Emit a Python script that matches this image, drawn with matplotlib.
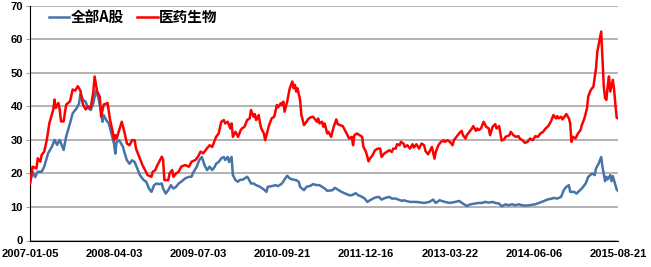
import numpy as np
import matplotlib
matplotlib.use("Agg")
import matplotlib.pyplot as plt

# Datos semanales (indice de semana, PE)
fechas = ["2007-01-05", "2008-04-03", "2009-07-03", "2010-09-21",
          "2011-12-16", "2013-03-22", "2014-06-06", "2015-08-21"]
paso_etiqueta = 65
n_semanas = 456

semana_a = [0, 2, 4, 6, 9, 11, 14, 17, 19, 21, 23, 26, 28, 31, 33, 36, 38, 39, 41, 43,
            45, 47, 49, 51, 53, 55, 56, 57, 59, 61, 63, 65, 66, 67, 69, 72, 73, 75, 77, 79,
            81, 83, 85, 88, 90, 92, 94, 96, 98, 100, 102, 103, 105, 107, 109, 111, 113, 115, 117, 120,
            123, 125, 126, 129, 131, 133, 135, 137, 139, 141, 143, 144, 146, 148, 150, 151, 153, 154, 156, 157,
            159, 161, 162, 165, 168, 169, 171, 173, 175, 178, 181, 183, 184, 187, 190, 192, 195, 197, 199, 201,
            203, 206, 208, 209, 212, 214, 217, 219, 222, 224, 226, 228, 230, 234, 236, 239, 241, 244, 247, 249,
            252, 254, 257, 259, 261, 264, 267, 270, 272, 275, 278, 280, 283, 285, 288, 289, 294, 299, 305, 309,
            312, 314, 317, 321, 325, 329, 332, 335, 338, 341, 344, 347, 350, 352, 355, 358, 360, 363, 365, 368,
            370, 373, 376, 378, 381, 383, 386, 389, 391, 394, 396, 399, 401, 404, 405, 408, 411, 413, 415, 417,
            418, 421, 423, 425, 427, 430, 432, 435, 437, 438, 440, 442, 443, 445, 446, 447, 449, 450, 451, 453,
            454, 455]
pe_a = [17.0, 20.5, 18.9, 20.5, 20.5, 22.0, 26.0, 28.0, 30.0, 28.5, 30.0, 27.0, 31.0, 35.0, 37.9, 39.4, 40.9, 43.7, 41.9, 41.4,
        39.4, 38.9, 40.9, 44.7, 42.4, 38.4, 35.4, 37.4, 35.9, 34.9, 31.9, 28.9, 25.9, 29.4, 29.9, 27.9, 26.4, 23.9, 22.9, 23.9,
        23.4, 21.5, 19.5, 18.0, 17.5, 15.5, 14.5, 16.5, 17.0, 16.8, 17.0, 15.5, 14.0, 15.0, 16.5, 15.5, 16.0, 17.0, 17.5, 18.5,
        19.0, 19.0, 20.0, 22.0, 24.0, 24.9, 22.5, 21.0, 22.0, 21.0, 22.0, 22.9, 23.4, 24.5, 24.9, 24.0, 24.9, 23.4, 24.9, 19.5,
        18.0, 17.5, 18.0, 18.2, 19.0, 18.5, 17.0, 17.0, 16.5, 16.0, 15.2, 14.5, 16.0, 16.2, 16.5, 16.2, 17.0, 18.2, 19.3, 18.5,
        18.2, 18.0, 17.5, 16.0, 15.0, 16.0, 16.3, 16.8, 16.5, 16.5, 16.0, 15.5, 14.8, 15.0, 15.7, 15.0, 14.5, 14.0, 13.5, 13.5,
        14.1, 13.5, 13.0, 12.5, 11.5, 12.2, 12.8, 13.0, 12.2, 12.7, 13.0, 12.5, 12.5, 12.2, 11.8, 12.0, 11.5, 11.5, 11.2, 11.5,
        12.2, 11.2, 12.0, 11.5, 11.2, 11.5, 11.8, 11.0, 10.3, 10.8, 11.0, 11.2, 11.2, 11.5, 11.3, 11.5, 11.2, 11.0, 10.2, 10.8,
        10.5, 10.8, 10.5, 10.8, 10.5, 10.4, 10.5, 10.7, 10.8, 11.2, 11.5, 12.0, 12.3, 12.5, 12.7, 12.5, 13.0, 15.0, 16.0, 16.5,
        14.5, 14.5, 14.0, 14.8, 15.5, 17.0, 19.0, 20.0, 19.5, 21.5, 22.9, 24.9, 21.9, 17.7, 19.0, 18.2, 19.5, 17.7, 19.2, 16.5,
        15.2, 14.8]

semana_yy = [0, 2, 5, 6, 8, 9, 11, 13, 15, 18, 19, 20, 22, 23, 24, 26, 28, 31, 33, 35,
             37, 39, 41, 43, 45, 47, 49, 50, 52, 54, 55, 57, 60, 62, 64, 65, 66, 67, 69, 71,
             72, 73, 75, 77, 79, 81, 82, 85, 87, 89, 91, 94, 95, 97, 98, 100, 102, 103, 104, 107,
             108, 110, 111, 113, 115, 117, 120, 123, 125, 128, 130, 132, 134, 137, 139, 141, 143, 144, 146, 148,
             150, 151, 153, 155, 156, 157, 159, 161, 163, 164, 166, 168, 170, 171, 173, 174, 175, 177, 178, 179,
             181, 182, 183, 185, 187, 189, 191, 192, 194, 195, 196, 197, 199, 200, 201, 203, 204, 205, 206, 207,
             209, 210, 212, 214, 215, 217, 219, 221, 222, 223, 224, 226, 227, 228, 230, 231, 233, 235, 237, 238,
             240, 242, 243, 245, 247, 249, 250, 251, 253, 255, 257, 258, 260, 262, 263, 265, 267, 269, 271, 272,
             274, 276, 278, 280, 281, 283, 284, 286, 287, 289, 290, 292, 294, 296, 297, 299, 301, 303, 305, 306,
             308, 309, 311, 313, 314, 316, 318, 320, 321, 323, 325, 327, 328, 330, 332, 334, 335, 337, 338, 340,
             342, 343, 345, 346, 347, 349, 351, 353, 355, 356, 358, 360, 361, 363, 365, 367, 368, 371, 372, 374,
             376, 378, 379, 381, 383, 385, 387, 389, 391, 393, 395, 397, 399, 401, 403, 404, 405, 407, 408, 409,
             411, 412, 414, 415, 417, 418, 419, 420, 422, 423, 424, 426, 427, 429, 431, 432, 434, 435, 436, 438,
             439, 440, 442, 443, 444, 445, 446, 447, 448, 449, 451, 452, 453, 454, 455]
pe_yy = [17.0, 22.0, 21.5, 24.5, 23.5, 25.5, 26.5, 30.0, 35.0, 39.0, 42.0, 39.5, 41.0, 39.0, 35.5, 35.5, 40.5, 41.5, 45.0, 44.7,
         46.0, 44.7, 40.5, 39.1, 40.0, 39.5, 44.4, 48.9, 44.4, 42.9, 36.9, 40.5, 41.0, 35.9, 32.4, 29.9, 31.4, 30.4, 32.9, 35.4,
         33.9, 32.4, 28.9, 28.4, 29.9, 29.9, 27.4, 24.5, 22.5, 21.0, 19.5, 19.0, 20.5, 21.0, 22.0, 23.5, 25.0, 24.0, 18.0, 18.0,
         20.0, 21.0, 19.0, 20.0, 20.5, 22.0, 22.5, 22.0, 23.5, 24.0, 25.0, 26.5, 26.0, 27.5, 28.4, 27.9, 29.9, 30.9, 31.9, 35.4,
         35.9, 34.9, 35.4, 33.4, 34.9, 30.9, 32.4, 30.9, 32.9, 33.4, 33.9, 35.9, 36.4, 38.9, 36.9, 37.7, 35.9, 37.4, 34.9, 33.4,
         31.9, 29.9, 31.4, 34.4, 36.4, 36.9, 40.4, 39.7, 40.9, 40.4, 41.4, 38.4, 41.4, 43.4, 45.4, 47.4, 45.4, 46.4, 44.4, 45.4,
         41.9, 37.4, 34.4, 35.4, 36.1, 36.7, 36.9, 35.9, 35.4, 36.4, 34.9, 35.4, 33.9, 34.9, 31.9, 32.4, 30.9, 33.9, 36.1, 34.7,
         34.4, 34.1, 33.4, 31.9, 30.4, 30.9, 28.4, 31.4, 31.9, 31.4, 30.9, 27.9, 26.4, 23.6, 24.4, 25.4, 26.9, 27.4, 27.4, 24.9,
         25.9, 26.4, 26.9, 26.4, 27.4, 27.4, 28.7, 28.4, 29.4, 28.9, 27.9, 28.4, 27.4, 28.7, 27.7, 28.7, 27.4, 28.9, 28.4, 26.7,
         25.7, 26.4, 27.9, 24.4, 26.4, 28.4, 29.4, 29.9, 29.4, 29.9, 29.4, 28.4, 29.9, 30.9, 31.9, 32.7, 31.4, 30.4, 31.4, 32.4,
         33.4, 34.1, 32.7, 33.4, 32.9, 33.4, 35.4, 33.9, 33.4, 31.4, 33.9, 34.7, 33.4, 34.1, 29.8, 30.2, 30.9, 31.4, 32.4, 31.4,
         30.9, 31.1, 30.4, 29.9, 29.1, 29.4, 30.4, 29.9, 31.1, 30.9, 31.9, 32.4, 33.4, 34.1, 35.4, 36.4, 37.4, 36.4, 37.1, 36.4,
         36.9, 36.1, 37.1, 37.7, 36.4, 34.9, 29.4, 30.9, 30.4, 31.1, 31.9, 32.9, 34.4, 36.4, 39.4, 43.0, 44.9, 45.4, 45.9, 51.4,
         56.3, 58.3, 62.3, 54.3, 45.9, 42.4, 41.9, 45.9, 48.9, 44.4, 47.9, 44.9, 40.4, 36.6, 36.4]

fig = plt.figure(figsize=(6.51, 2.67), dpi=100)
ax = fig.add_axes([30 / 651, 26.5 / 267, 588 / 651, 234.8 / 267])

ax.plot(semana_a, pe_a, color="#4673a8", lw=1.8, label="全部A股", zorder=3)
ax.plot(semana_yy, pe_yy, color="#ff0000", lw=1.8, label="医药生物", zorder=4)

ax.set_xlim(0, n_semanas - 1)
ax.set_ylim(0, 70)
ax.set_yticks(np.arange(0, 71, 10))
ax.yaxis.grid(True, color="#a6a6a6", lw=1.2)
ax.set_axisbelow(True)

ax.set_xticks(np.arange(len(fechas)) * paso_etiqueta)
ax.set_xticklabels(fechas)

for s in ["top", "right"]:
    ax.spines[s].set_visible(False)
ax.spines["left"].set_color("black")
ax.spines["bottom"].set_color("black")
ax.tick_params(axis="x", length=0, pad=6)
ax.tick_params(axis="y", length=3, color="#a6a6a6", pad=2)

for lab in ax.get_xticklabels() + ax.get_yticklabels():
    lab.set_fontfamily("Liberation Sans")
    lab.set_fontweight("bold")
    lab.set_fontsize(8)

# leyenda arriba a la izquierda, sin marco
leg = ax.legend(loc="upper left", bbox_to_anchor=(49 / 651, 258 / 267), bbox_transform=fig.transFigure,
                ncol=2, frameon=False, handlelength=1.4, handletextpad=0.1, columnspacing=0.9,
                borderaxespad=0, borderpad=0,
                prop={"family": ["Noto Sans CJK SC", "DejaVu Sans"], "weight": "bold", "size": 10.5})

fig.savefig("out.png", dpi=100)
